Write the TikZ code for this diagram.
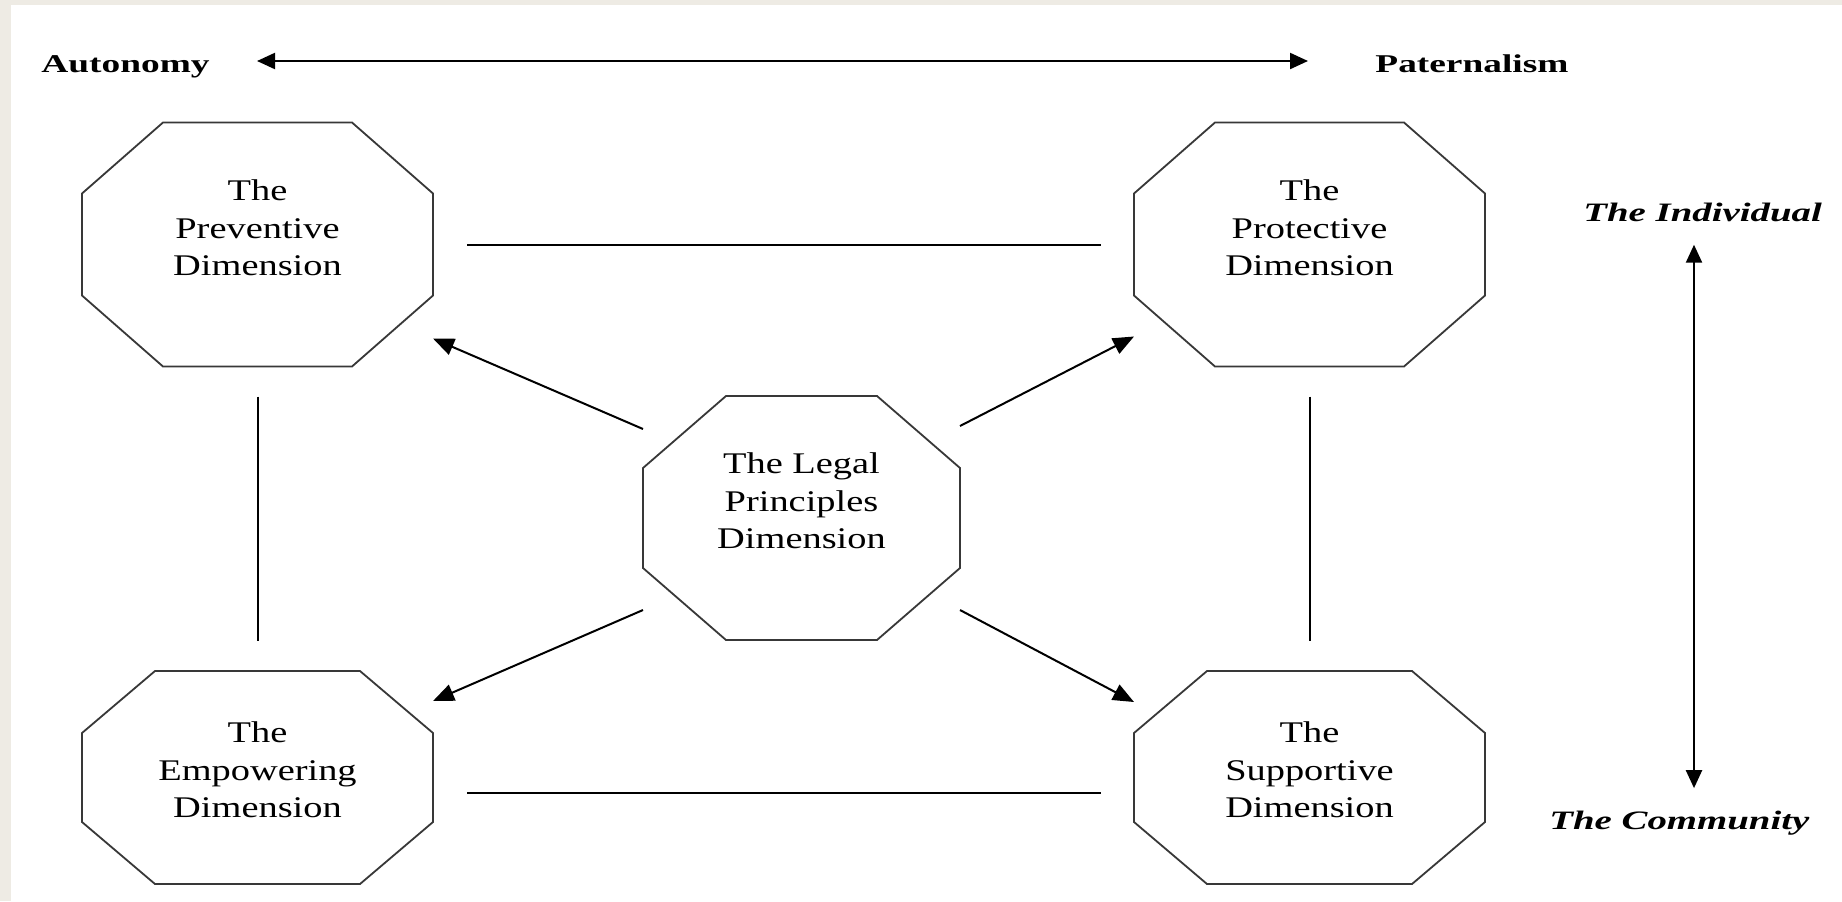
\documentclass[tikz,border=0pt]{standalone}
\usepackage{fontspec}
\newfontfamily\dimfont[FakeStretch=1.28]{Liberation Serif}
\newfontfamily\axisfont[FakeStretch=1.46]{Liberation Serif}
\usetikzlibrary{positioning,arrows.meta}
\definecolor{pagebeige}{HTML}{EEEBE4}

\begin{document}
\begin{tikzpicture}[x=0.5pt, y=-0.5pt,
  octa/.style={rectangle, inner sep=0pt, outer sep=0pt,
    minimum width=175.5pt, minimum height=122pt},
  lowocta/.style={minimum height=106.5pt},
  legalocta/.style={minimum width=158.5pt},
  octaline/.style={draw=black!78, line width=0.9pt, line join=miter},
  dimtext/.style={align=center, inner sep=0pt,
    font=\dimfont\fontsize{15}{18.75}\selectfont},
  heading/.style={inner sep=0pt, font=\axisfont\bfseries\fontsize{12.8}{15}\selectfont},
  axislabel/.style={inner sep=0pt, font=\axisfont\bfseries\itshape\fontsize{13.3}{16}\selectfont},
  link/.style={line width=1pt},
  arr/.style={-{Triangle[length=10.5pt,width=8.5pt]}, line width=1pt},
  axisarrow/.style={{Triangle[length=9pt,width=8pt]}-{Triangle[length=9pt,width=8pt]}, line width=1.1pt}]

\fill[pagebeige] (0,0) rectangle (1842,901);
\fill[white] (11,5) rectangle (1842,901);
\useasboundingbox (0,0) rectangle (1842,901);

% axes
\node[heading, anchor=base west] (auton) at (41,72) {Autonomy};
\node[heading, anchor=base west] (pater) at (1375,72) {Paternalism};
\node[axislabel, anchor=base west] (indiv) at (1583,221) {The Individual};
\node[axislabel, anchor=base west] (commu) at (1549,829) {The Community};
\coordinate (axisx) at (1694,0);

\draw[axisarrow, shorten <=23.5pt, shorten >=33.5pt]
  ([yshift=5.5pt]auton.base east) -- ([yshift=5.5pt]pater.base west);
\draw[axisarrow, shorten <=11.5pt, shorten >=11pt]
  (indiv.south -| axisx) -- (commu.north -| axisx);

% dimensions
\node[octa] (prev) at (257.5,244.5) {};
\node[octa] (prot) at (1309.5,244.5) {};
\node[octa, lowocta] (empw) at (257.5,777.5) {};
\node[octa, lowocta] (supp) at (1309.5,777.5) {};
\node[octa, legalocta] (legal) at (801.5,518) {};

% octagon outlines, corner cuts in pt
\foreach \n/\cx/\cy in {prev/40.5/35.5, prot/40.5/35.5, empw/36.5/31, supp/36.5/31, legal/41.5/36}
  \draw[octaline] ([xshift=\cx pt]\n.north west) -- ([xshift=-\cx pt]\n.north east)
    -- ([yshift=-\cy pt]\n.north east) -- ([yshift=\cy pt]\n.south east)
    -- ([xshift=-\cx pt]\n.south east) -- ([xshift=\cx pt]\n.south west)
    -- ([yshift=\cy pt]\n.south west) -- ([yshift=-\cy pt]\n.north west) -- cycle;

\node[dimtext, below=28.5pt of prev.north] (prevtxt) {The\\Preventive\\Dimension};
\node[dimtext, below=28.5pt of prot.north] (prottxt) {The\\Protective\\Dimension};
\node[dimtext, below=25.25pt of empw.north] (empwtxt) {The\\Empowering\\Dimension};
\node[dimtext, below=25.25pt of supp.north] (supptxt) {The\\Supportive\\Dimension};
\node[dimtext, below=28.25pt of legal.north] (legaltxt) {The Legal\\Principles\\Dimension};

% links between the dimensions
\draw[link, shorten <=17pt, shorten >=16.5pt] (prev.east) -- (prot.west);
\draw[link, shorten <=17pt, shorten >=16.5pt]
  ([yshift=-7.5pt]empw.east) -- ([yshift=-7.5pt]supp.west);
\draw[link, shorten <=15pt, shorten >=15pt] (prev.south) -- (empw.north);
\draw[link, shorten <=15pt, shorten >=15pt] (prot.south) -- (supp.north);

% arrows out of the legal principles
\draw[arr] ([yshift=-16.5pt]legal.north west) -- ([yshift=14pt]prev.south east);
\draw[arr] ([yshift=-15pt]legal.north east) -- ([yshift=15pt]prot.south west);
\draw[arr] ([yshift=15pt]legal.south west) -- ([yshift=-15pt]empw.north east);
\draw[arr] ([yshift=15pt]legal.south east) -- ([yshift=-15.5pt]supp.north west);

\end{tikzpicture}
\end{document}
